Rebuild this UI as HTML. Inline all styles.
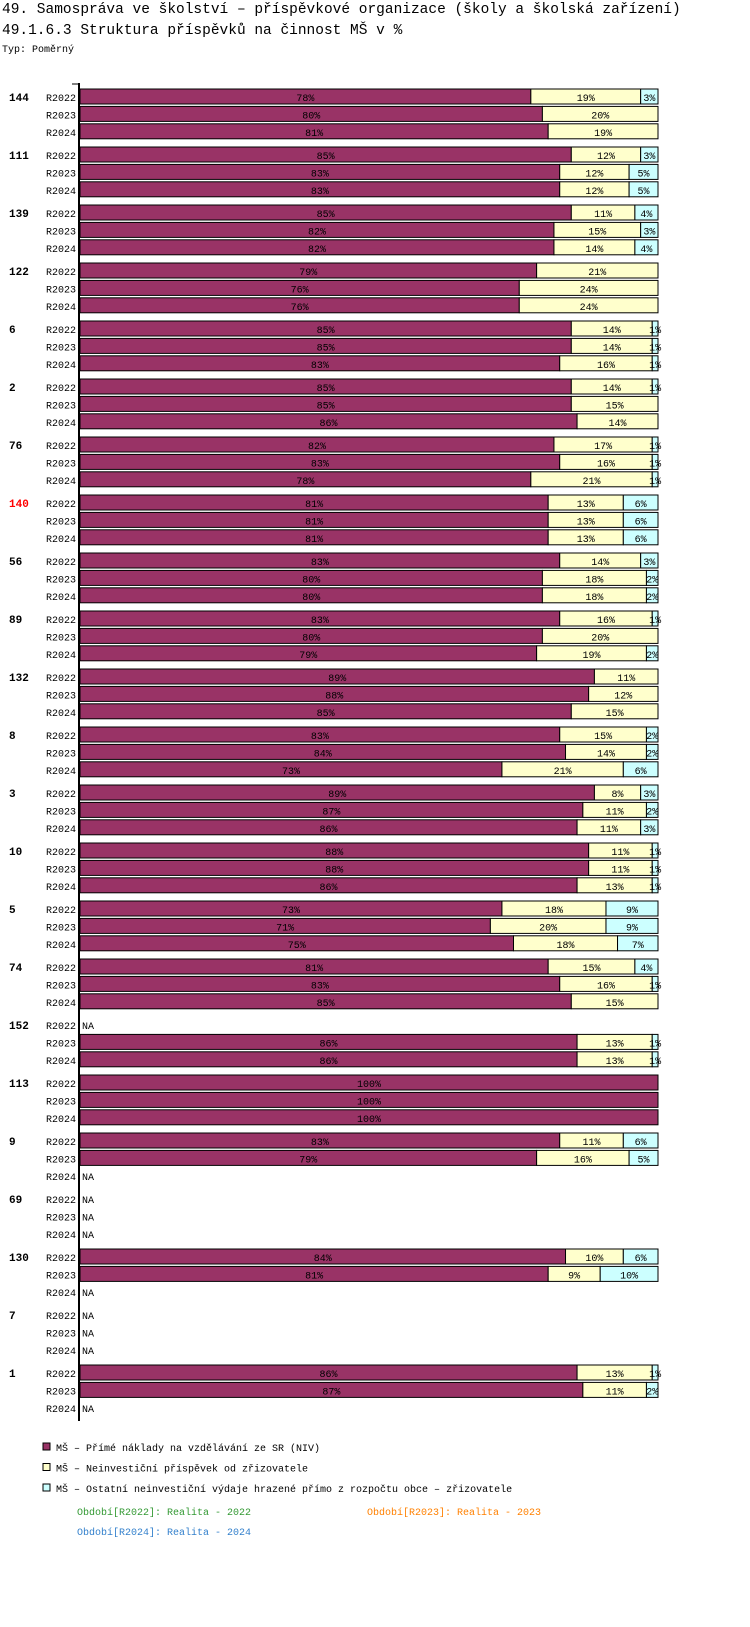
<!DOCTYPE html>
<html><head><meta charset="utf-8"><style>
body{margin:0;background:#fff;width:750px;height:1622px;overflow:hidden;font-family:"Liberation Mono",monospace}
svg text{font-family:"Liberation Mono","DejaVu Sans Mono",monospace}
</style></head><body>
<svg id="c" width="750" height="1622">
<text x="2" y="13" font-size="14.5">49. Samospráva ve školství – příspěvkové organizace (školy a školská zařízení)</text>
<text x="2" y="34" font-size="14.5">49.1.6.3 Struktura příspěvků na činnost MŠ v %</text>
<text x="2" y="52" font-size="10">Typ: Poměrný</text>
</svg>
<script>
const groups=["144","111","139","122","6","2","76","140","56","89","132","8","3","10","5","74","152","113","9","69","130","7","1"];
const years=["R2022","R2023","R2024"];
const seriesA=[[78,80,81],[85,83,83],[85,82,82],[79,76,76],[85,85,83],[85,85,86],[82,83,78],[81,81,81],[83,80,80],[83,80,79],[89,88,85],[83,84,73],[89,87,86],[88,88,86],[73,71,75],[81,83,85],[null,86,86],[100,100,100],[83,79,null],[null,null,null],[84,81,null],[null,null,null],[86,87,null]];
const seriesB=[[19,20,19],[12,12,12],[11,15,14],[21,24,24],[14,14,16],[14,15,14],[17,16,21],[13,13,13],[14,18,18],[16,20,19],[11,12,15],[15,14,21],[8,11,11],[11,11,13],[18,20,18],[15,16,15],[null,13,13],[0,0,0],[11,16,null],[null,null,null],[10,9,null],[null,null,null],[13,11,null]];
const seriesC=[[3,0,0],[3,5,5],[4,3,4],[0,0,0],[1,1,1],[1,0,0],[1,1,1],[6,6,6],[3,2,2],[1,0,2],[0,0,0],[2,2,6],[3,2,3],[1,1,1],[9,9,7],[4,1,0],[null,1,1],[0,0,0],[6,5,null],[null,null,null],[6,10,null],[null,null,null],[1,2,null]];
const colors=["#993366","#ffffcc","#ccffff"];
const svg=document.getElementById('c');const NS="http://www.w3.org/2000/svg";
const X0=80,W=578;
function xs(p){return X0+p/100*W;}
function yc(g,r){return 97+g*58+r*17.4;}
function mk(tag,attrs,txt){const e=document.createElementNS(NS,tag);for(const k in attrs)e.setAttribute(k,attrs[k]);if(txt!=null)e.textContent=txt;svg.appendChild(e);return e;}
groups.forEach((g,gi)=>{
 const gl=mk('text',{x:9,y:yc(gi,0)+4,'font-size':11,'font-weight':'bold',fill:g==="140"?"#ff0000":"#000"},g);
 
 
 years.forEach((yr,ri)=>{
  const cy=yc(gi,ri);
  const yl=mk('text',{x:76,y:cy+4,'font-size':10,'text-anchor':'end'},yr);
  
  
  const a=seriesA[gi][ri];
  if(a===null){const na=mk('text',{x:82,y:cy+4,'font-size':10},'NA');
   
   return;}
  const vals=[a,seriesB[gi][ri],seriesC[gi][ri]];
  const tot=vals.reduce((s,v)=>s+v,0);let cum=0;
  vals.forEach((v,si)=>{
   if(v<=0)return;
   const x1=xs(cum/tot*100),x2=xs((cum+v)/tot*100);cum+=v;
   const r=mk('rect',{x:x1,y:cy-8,width:x2-x1,height:15,fill:colors[si],stroke:'#000','stroke-width':1});
   
   
   const t=mk('text',{x:(x1+x2)/2,y:cy+4,'font-size':10,'text-anchor':'middle'},v+'%');
   
   
  });
 });
});
const ax=mk('line',{x1:79,y1:83,x2:79,y2:1421,stroke:'#000','stroke-width':2});


const tk=mk('line',{x1:72,y1:84,x2:80,y2:84,stroke:'#000','stroke-width':1});


const legend=["MŠ – Přímé náklady na vzdělávání ze SR (NIV)","MŠ – Neinvestiční příspěvek od zřizovatele","MŠ – Ostatní neinvestiční výdaje hrazené přímo z rozpočtu obce – zřizovatele"];
legend.forEach((l,i)=>{
 const y=1448+i*20.5;
 const s=mk('rect',{x:43,y:y-5,width:7,height:7,fill:colors[i],stroke:'#000'});
 
 
 const t=mk('text',{x:56,y:y+3,'font-size':10},l);
 
 
});
const foot=[["Období[R2022]: Realita - 2022",77,1515,"#339933"],["Období[R2023]: Realita - 2023",367,1515,"#ff8000"],["Období[R2024]: Realita - 2024",77,1535,"#3380cc"]];
foot.forEach(f=>{const t=mk('text',{x:f[1],y:f[2],'font-size':10,fill:f[3]},f[0]);
 
 });
</script>
</body></html>
